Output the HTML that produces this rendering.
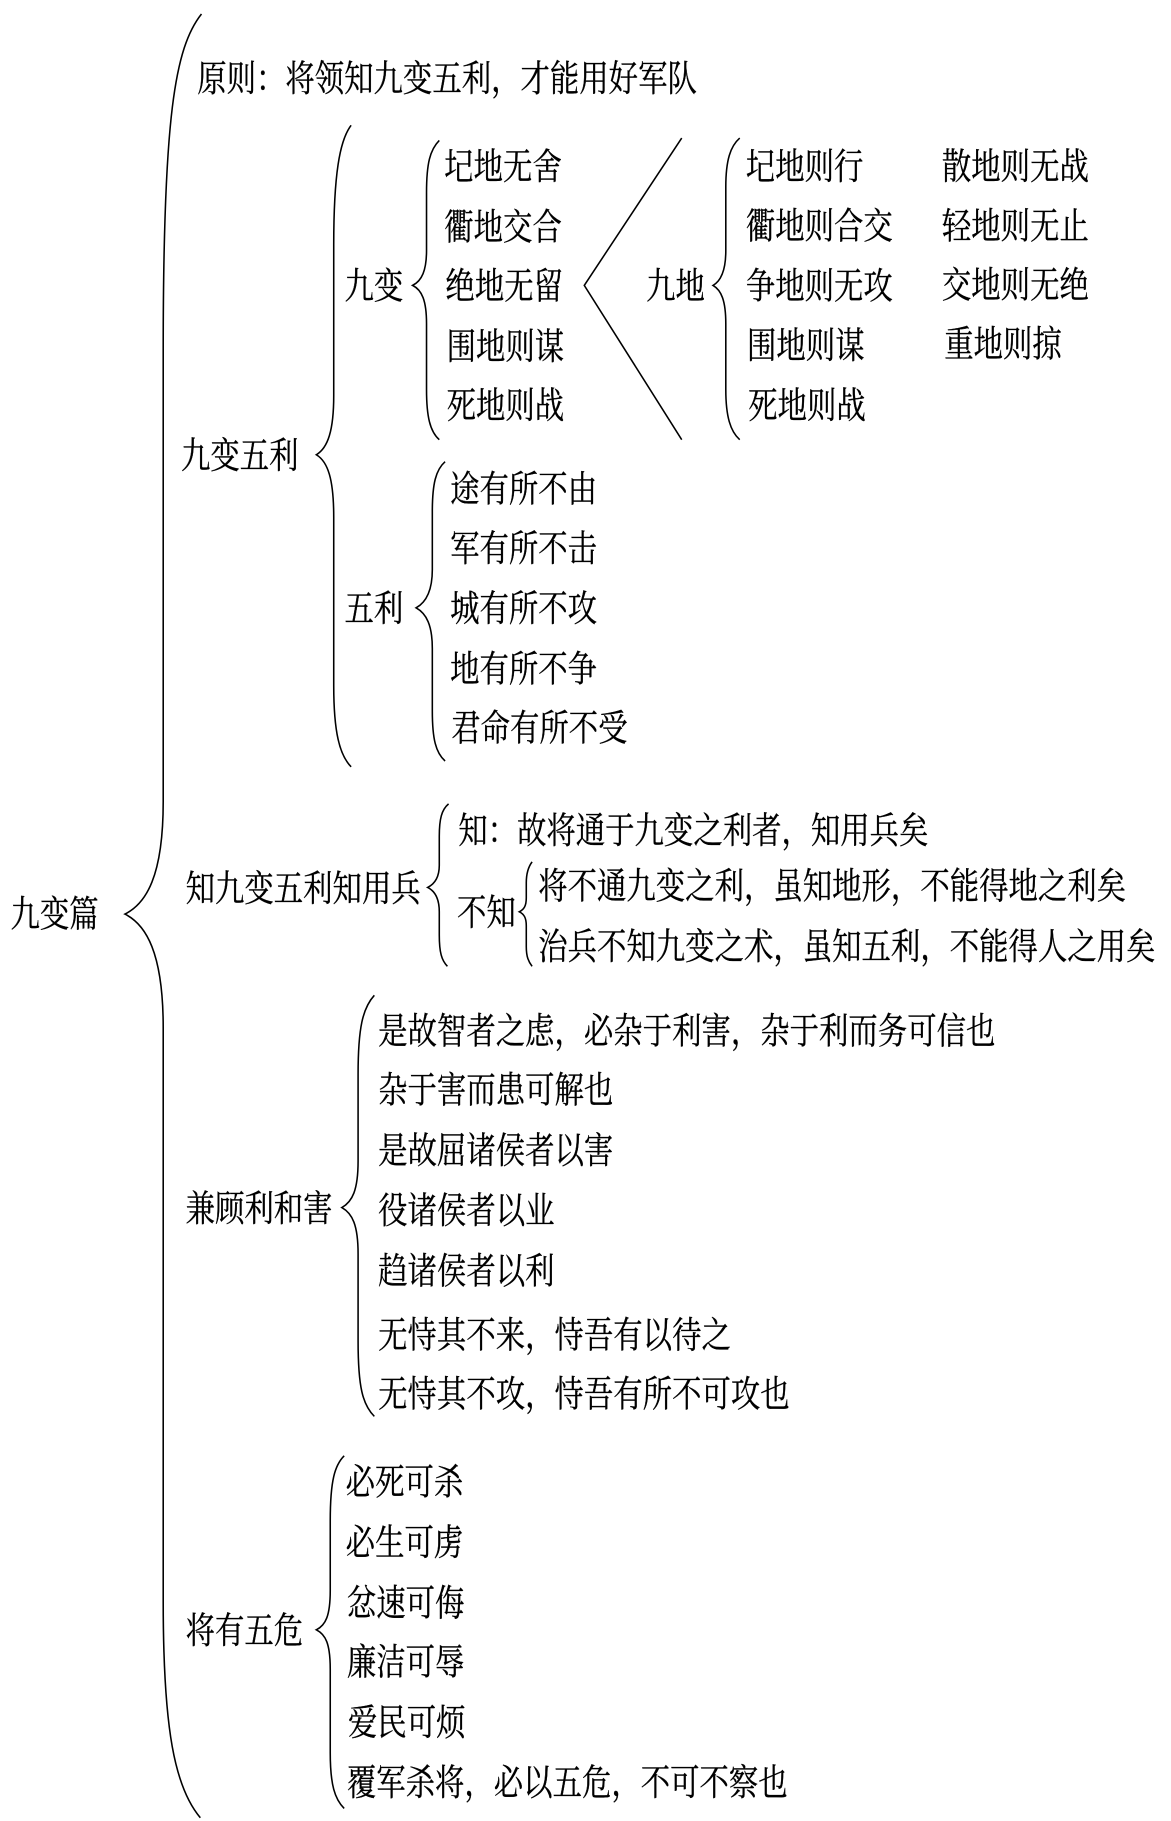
<!DOCTYPE html>
<html lang="zh">
<head>
<meta charset="utf-8">
<title>九变篇</title>
<style>
html,body{margin:0;padding:0;background:#fff}
svg{display:block}
text{font-family:"Liberation Serif","Noto Serif CJK SC",serif;font-size:25.35px;fill:#000;stroke:#000;stroke-width:.22}
path{fill:none;stroke:#000;stroke-width:1.35}
</style>
</head>
<body>
<svg xmlns="http://www.w3.org/2000/svg" width="1171" height="1821" viewBox="0 0 1009.5 1569.8">
<g transform="translate(.7,1)">
<path d="M173,11 C150,40 140,100 140,300 L140,690 C140,755 125,778 107,787 C125,796 140,820 140,885 L140,1380 C140,1490 150,1540 172,1566"/>
<path d="M302,107 C292,120 287,150 287,210 L287,340 C287,370 282,385 272,391 C282,397 287,412 287,445 L287,590 C287,630 292,650 302,660"/>
<path d="M378,120 C370,128 367,140 367,165 L367,215 C367,232 363,241 355,245 C363,249 367,258 367,278 L367,335 C367,358 370,371 378,378"/>
<path d="M383,397 C375,404 372,416 372,440 L372,490 C372,508 367,518 358,523 C367,528 372,538 372,558 L372,612 C372,636 375,648 383,655"/>
<path d="M637,118 C629,125 625,137 625,160 L625,215 C625,232 621,241 614,245 C621,249 625,258 625,278 L625,335 C625,358 629,371 637,378"/>
<path d="M587,118 L503,245 L587,378"/>
<path d="M386,692 C380,697 378,705 378,720 L378,745 C378,755 374,761 368,764 C374,767 378,773 378,785 L378,805 C378,820 380,827 385,832"/>
<path d="M458,742 C455,746 453,751 453,760 L453,773 C453,780 451,783 447,785 C451,787 453,790 453,797 L453,815 C453,824 455,828 458,832"/>
<path d="M322,857 C312,868 308,885 308,925 L308,1000 C308,1025 303,1035 294,1040 C303,1045 308,1055 308,1080 L308,1155 C308,1195 312,1210 322,1220"/>
<path d="M296,1254 C288,1262 284,1275 284,1310 L284,1370 C284,1392 280,1400 272,1404 C280,1408 284,1416 284,1438 L284,1510 C284,1538 288,1550 296,1558"/>
</g>
<g transform="translate(0,.5)">
<text transform="matrix(1 0 0 1.245 9 798)">九变篇</text>
<text transform="matrix(1 0 0 1.245 170 78)">原则：将领知九变五利，才能用好军队</text>
<text transform="matrix(1 0 0 1.245 156 403)">九变五利</text>
<text transform="matrix(1 0 0 1.245 297 257)">九变</text>
<text transform="matrix(1 0 0 1.245 297 535)">五利</text>
<text transform="matrix(1 0 0 1.245 383 154)">圮地无舍</text>
<text transform="matrix(1 0 0 1.245 383 206)">衢地交合</text>
<text transform="matrix(1 0 0 1.245 384 257)">绝地无留</text>
<text transform="matrix(1 0 0 1.245 385 309)">围地则谋</text>
<text transform="matrix(1 0 0 1.245 385 360)">死地则战</text>
<text transform="matrix(1 0 0 1.245 557 257)">九地</text>
<text transform="matrix(1 0 0 1.245 643 154)">圮地则行</text>
<text transform="matrix(1 0 0 1.245 643 205)">衢地则合交</text>
<text transform="matrix(1 0 0 1.245 643 257)">争地则无攻</text>
<text transform="matrix(1 0 0 1.245 644 308)">围地则谋</text>
<text transform="matrix(1 0 0 1.245 645 360)">死地则战</text>
<text transform="matrix(1 0 0 1.245 812 154)">散地则无战</text>
<text transform="matrix(1 0 0 1.245 812 205)">轻地则无止</text>
<text transform="matrix(1 0 0 1.245 812 256)">交地则无绝</text>
<text transform="matrix(1 0 0 1.245 814 307)">重地则掠</text>
<text transform="matrix(1 0 0 1.245 388 432)">途有所不由</text>
<text transform="matrix(1 0 0 1.245 388 483)">军有所不击</text>
<text transform="matrix(1 0 0 1.245 388 535)">城有所不攻</text>
<text transform="matrix(1 0 0 1.245 388 587)">地有所不争</text>
<text transform="matrix(1 0 0 1.245 389 638)">君命有所不受</text>
<text transform="matrix(1 0 0 1.245 160 776)">知九变五利知用兵</text>
<text transform="matrix(1 0 0 1.245 395 726)">知：故将通于九变之利者，知用兵矣</text>
<text transform="matrix(1 0 0 1.245 394 797)">不知</text>
<text transform="matrix(1 0 0 1.245 464 774)">将不通九变之利，虽知地形，不能得地之利矣</text>
<text transform="matrix(1 0 0 1.245 464 826)">治兵不知九变之术，虽知五利，不能得人之用矣</text>
<text transform="matrix(1 0 0 1.245 160 1052)">兼顾利和害</text>
<text transform="matrix(1 0 0 1.245 326 899)">是故智者之虑，必杂于利害，杂于利而务可信也</text>
<text transform="matrix(1 0 0 1.245 326 950)">杂于害而患可解也</text>
<text transform="matrix(1 0 0 1.245 326 1002)">是故屈诸侯者以害</text>
<text transform="matrix(1 0 0 1.245 326 1054)">役诸侯者以业</text>
<text transform="matrix(1 0 0 1.245 326 1106)">趋诸侯者以利</text>
<text transform="matrix(1 0 0 1.245 326 1161)">无恃其不来，恃吾有以待之</text>
<text transform="matrix(1 0 0 1.245 326 1212)">无恃其不攻，恃吾有所不可攻也</text>
<text transform="matrix(1 0 0 1.245 160 1416)">将有五危</text>
<text transform="matrix(1 0 0 1.245 298 1288)">必死可杀</text>
<text transform="matrix(1 0 0 1.245 298 1340)">必生可虏</text>
<text transform="matrix(1 0 0 1.245 299 1392)">忿速可侮</text>
<text transform="matrix(1 0 0 1.245 299 1443)">廉洁可辱</text>
<text transform="matrix(1 0 0 1.245 300 1495)">爱民可烦</text>
<text transform="matrix(1 0 0 1.245 299 1547)">覆军杀将，必以五危，不可不察也</text>
</g>
</svg>
</body>
</html>
